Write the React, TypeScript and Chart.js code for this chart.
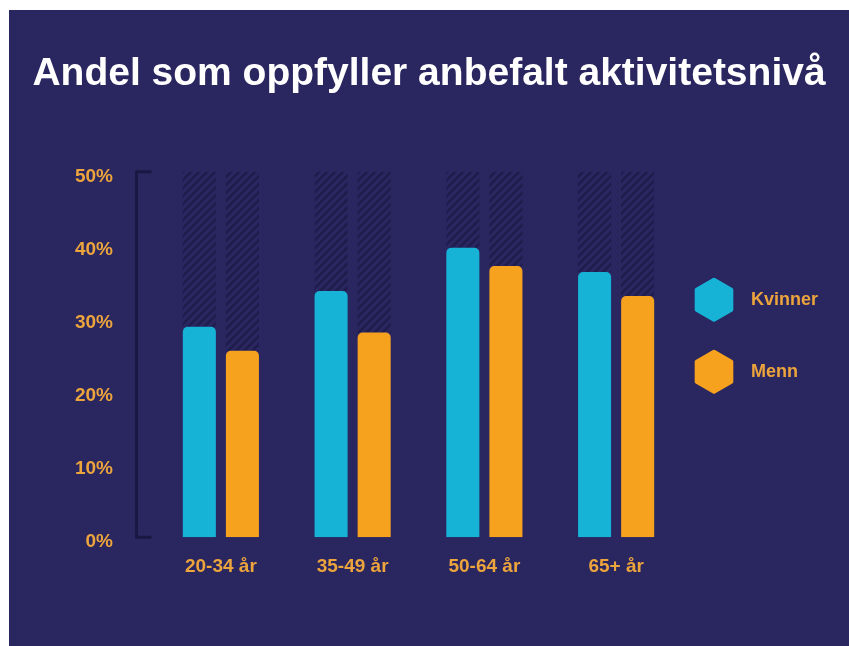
import React, { useEffect, useRef } from 'react';
import { Chart, registerables } from 'chart.js';

Chart.register(...registerables);

const TITLE = 'Andel som oppfyller anbefalt aktivitetsnivå';
const CATEGORIES = ['20-34 år', '35-49 år', '50-64 år', '65+ år'];
const SERIES = ['Kvinner', 'Menn'];
const KVINNER = [28.8, 33.7, 39.6, 36.3];
const MENN = [25.5, 28, 37.1, 33];
const Y_MAX = 50;
const Y_STEP = 10;

const BG = '#2a2660';
const CYAN = '#17b3d6';
const ORANGE = '#f7a21f';
const LABEL = '#eca43c';
const HATCH = '#1e1c4b';
const AXIS = '#1a1842';
const FONT = "'Liberation Sans', Arial, sans-serif";

function makeHatch(ctx: CanvasRenderingContext2D) {
  const s = 8;
  const c = document.createElement('canvas');
  c.width = s;
  c.height = s;
  const g = c.getContext('2d')!;
  g.fillStyle = BG;
  g.fillRect(0, 0, s, s);
  g.strokeStyle = HATCH;
  g.lineWidth = 2.2;
  g.beginPath();
  g.moveTo(-1, s + 1);
  g.lineTo(s + 1, -1);
  g.moveTo(-s / 2 - 1, s / 2 + 1);
  g.lineTo(s / 2 + 1, -s / 2 - 1);
  g.moveTo(s / 2 - 1, s * 1.5 + 1);
  g.lineTo(s * 1.5 + 1, s / 2 - 1);
  g.stroke();
  return ctx.createPattern(c, 'repeat');
}

const axisBracket = {
  id: 'axisBracket',
  beforeDatasetsDraw(chart: any) {
    const y = chart.scales.y;
    const ctx = chart.ctx;
    const x0 = chart.chartArea.left - 18.5;
    const top = y.getPixelForValue(Y_MAX);
    const bot = y.getPixelForValue(0);
    ctx.save();
    ctx.strokeStyle = AXIS;
    ctx.lineWidth = 3;
    ctx.beginPath();
    ctx.moveTo(x0 + 15, top);
    ctx.lineTo(x0, top);
    ctx.lineTo(x0, bot);
    ctx.lineTo(x0 + 15, bot);
    ctx.stroke();
    ctx.restore();
  },
};

const hexLegend = {
  id: 'hexLegend',
  afterDraw(chart: any) {
    const ctx = chart.ctx;
    const { right, top } = chart.chartArea;
    const items = chart.data.datasets.filter((d: any) => SERIES.includes(d.label));
    items.forEach((ds: any, i: number) => {
      const cx = right + 32;
      const cy = top + 128 + i * 72;
      const r = 20;
      ctx.save();
      ctx.beginPath();
      for (let k = 0; k < 6; k++) {
        const a = -Math.PI / 2 + (k * Math.PI) / 3;
        const px = cx + r * Math.cos(a);
        const py = cy + r * Math.sin(a);
        if (k === 0) ctx.moveTo(px, py);
        else ctx.lineTo(px, py);
      }
      ctx.closePath();
      ctx.fillStyle = ds.backgroundColor;
      ctx.strokeStyle = ds.backgroundColor;
      ctx.lineWidth = 4;
      ctx.lineJoin = 'round';
      ctx.fill();
      ctx.stroke();
      ctx.fillStyle = LABEL;
      ctx.font = `bold 18px ${FONT}`;
      ctx.textBaseline = 'middle';
      ctx.textAlign = 'left';
      ctx.fillText(ds.label, right + 69, cy);
      ctx.restore();
    });
  },
};

export default function App() {
  const ref = useRef<HTMLCanvasElement>(null);

  useEffect(() => {
    const canvas = ref.current!;
    const ctx = canvas.getContext('2d')!;
    const hatch = makeHatch(ctx);
    const radius = { topLeft: 5, topRight: 5, bottomLeft: 0, bottomRight: 0 };
    const chart = new Chart(canvas, {
      type: 'bar',
      data: {
        labels: CATEGORIES,
        datasets: [
          { label: SERIES[0], data: KVINNER, backgroundColor: CYAN, stack: 'k', borderRadius: radius, borderSkipped: 'start' },
          { label: SERIES[1], data: MENN, backgroundColor: ORANGE, stack: 'm', borderRadius: radius, borderSkipped: 'start' },
          { label: 'rest-k', data: KVINNER.map((v) => Y_MAX - v), backgroundColor: hatch as any, stack: 'k', borderRadius: 0 },
          { label: 'rest-m', data: MENN.map((v) => Y_MAX - v), backgroundColor: hatch as any, stack: 'm', borderRadius: 0 },
        ],
      },
      options: {
        animation: false,
        responsive: false,
        events: [],
        layout: { padding: { left: 0, right: 0, top: 0, bottom: 50 } },
        datasets: { bar: { categoryPercentage: 0.654, barPercentage: 0.767, borderWidth: 0 } },
        plugins: {
          legend: { display: false },
          tooltip: { enabled: false },
          title: {
            display: true,
            text: TITLE,
            color: '#ffffff',
            font: { family: FONT, size: 39, weight: 'bold' },
            padding: { top: 41, bottom: 74 },
          },
        },
        scales: {
          x: {
            grid: { display: false, drawTicks: false, tickLength: 0 },
            border: { display: false },
            ticks: { color: LABEL, font: { family: FONT, size: 19, weight: 'bold' }, padding: 18 },
          },
          y: {
            stacked: true,
            min: 0,
            max: Y_MAX,
            afterFit: (scale: any) => {
              scale.width = 146;
            },
            grid: { display: false, drawTicks: false, tickLength: 0 },
            border: { display: false },
            ticks: {
              stepSize: Y_STEP,
              color: LABEL,
              font: { family: FONT, size: 19, weight: 'bold' },
              padding: 42,
              labelOffset: 5,
              callback: (v: any) => `${v}%`,
            },
          },
          legendSpace: {
            type: 'linear',
            position: 'right',
            display: true,
            afterFit: (scale: any) => {
              scale.width = 167;
            },
            grid: { display: false, drawTicks: false, tickLength: 0 },
            border: { display: false },
            ticks: { display: false },
          },
        },
      },
      plugins: [axisBracket, hexLegend],
    });
    return () => chart.destroy();
  }, []);

  return (
    <div style={{ position: 'relative', width: 849, height: 646, background: '#ffffff', overflow: 'hidden' }}>
      <style>{`body{margin:0}`}</style>
      <div style={{ position: 'absolute', left: 9, top: 10, width: 840, height: 636, background: BG }}>
        <canvas ref={ref} width={840} height={636} style={{ display: 'block', width: 840, height: 636 }} />
      </div>
    </div>
  );
}
